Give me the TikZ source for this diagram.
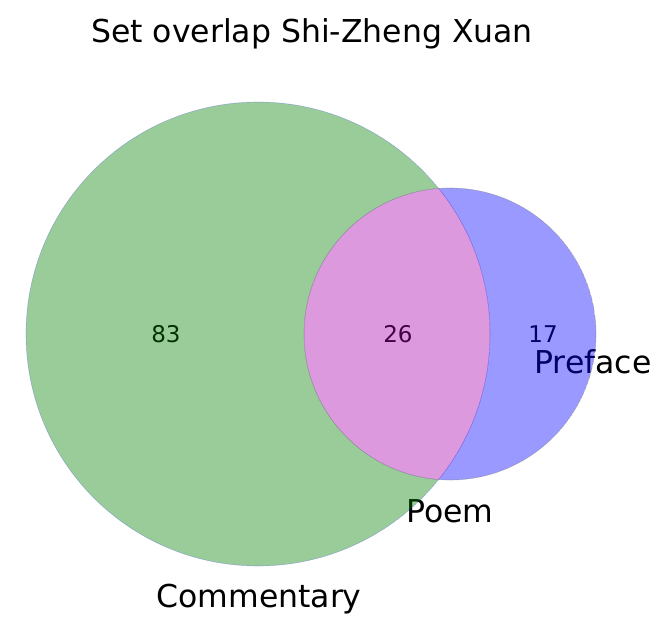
\documentclass[tikz,border=0pt]{standalone}
\usepackage{fontspec}
\setmainfont{DejaVu Sans}
\usepackage{tikz}
\usepackage{xcolor}
\definecolor{commgreen}{RGB}{0,128,0}
\definecolor{prefblue}{RGB}{0,0,255}
\definecolor{bothpink}{RGB}{170,0,170}

\begin{document}
\begin{tikzpicture}[x=1pt, y=-1pt,
		numtext/.style={font=\fontsize{23}{23}\selectfont, inner sep=0pt, anchor=base},
		settext/.style={font=\fontsize{31.5}{31.5}\selectfont, inner sep=0pt, anchor=base},
		patch/.style={opacity=0.4}]
			\useasboundingbox (0,0) rectangle (656,618);
			\node[settext] (title) at (312,43) {Set overlap Shi-Zheng Xuan};
			\node[numtext] (n83) at (166,342) {83};
			\node[numtext] (n26) at (398,342) {26};
			\node[numtext] (n17) at (543,342) {17};
			\node[settext] (preface) at (593,373) {Preface};
			\node[settext] (poem) at (450,522) {Poem};
			\node[settext] (commentary) at (259,607) {Commentary};
			% commentary only
			\begin{scope}
				\clip (258,334) circle (232);
				\fill[patch, commgreen, even odd rule] (258,334) circle (232) (450,334) circle (146);
			\end{scope}
			% preface only
			\begin{scope}
				\clip (450,334) circle (146);
				\fill[patch, prefblue, even odd rule] (258,334) circle (232) (450,334) circle (146);
			\end{scope}
			% both
			\begin{scope}
				\clip (258,334) circle (232);
				\fill[patch, bothpink] (450,334) circle (146);
			\end{scope}
			\draw[gray, opacity=0.45, line width=0.6pt] (450,334) circle (146);
			\draw[prefblue, opacity=0.2, line width=0.6pt] (258,334) circle (232);
		\end{tikzpicture}
\end{document}
